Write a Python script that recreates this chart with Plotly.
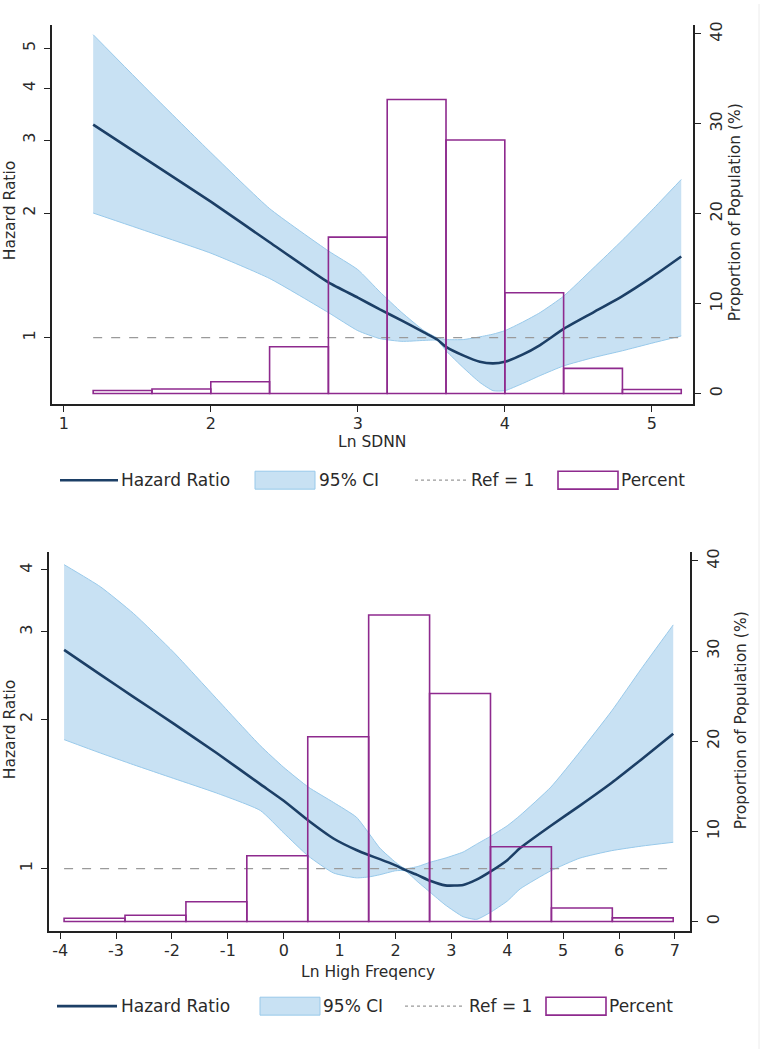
import math
import plotly.graph_objects as go
from plotly.subplots import make_subplots

# ---------------- data: Ln SDNN panel ----------------
sdnn_x = [1.2, 1.6, 2.0, 2.4, 2.8, 3.0, 3.15, 3.3, 3.45, 3.54, 3.6, 3.72, 3.83, 3.92, 4.0, 4.12, 4.24, 4.4, 4.6, 4.8, 5.0, 5.2]
sdnn_hr = [3.27, 2.64, 2.13, 1.70, 1.36, 1.25, 1.17, 1.10, 1.03, 0.99, 0.95, 0.905, 0.875, 0.867, 0.875, 0.91, 0.96, 1.05, 1.15, 1.26, 1.40, 1.57]
sdnn_lo = [2.0, 1.79, 1.60, 1.39, 1.15, 1.04, 0.995, 0.98, 0.985, 0.985, 0.93, 0.845, 0.78, 0.745, 0.745, 0.775, 0.81, 0.855, 0.895, 0.93, 0.97, 1.01]
sdnn_hi = [5.39, 3.87, 2.80, 2.05, 1.62, 1.46, 1.29, 1.15, 1.04, 1.0, 0.99, 0.99, 1.005, 1.02, 1.04, 1.09, 1.15, 1.26, 1.47, 1.72, 2.03, 2.41]
sdnn_bins = [1.4, 1.8, 2.2, 2.6, 3.0, 3.4, 3.8, 4.2, 4.6, 5.0]
sdnn_pct = [0.33, 0.5, 1.3, 5.2, 17.4, 32.7, 28.2, 11.2, 2.8, 0.44]
sdnn_binwidth = 0.4
sdnn_xticks = [1, 2, 3, 4, 5]

# ---------------- data: Ln High Frequency panel ----------------
hf_x = [-3.93, -3.28, -2.69, -1.97, -1.20, -0.42, 0.0, 0.44, 0.89, 1.30, 1.52, 1.72, 2.0, 2.17, 2.4, 2.62, 2.89,
        3.21, 3.45, 3.69, 4.0, 4.23, 4.78, 5.3, 5.87, 6.4, 6.97]
hf_hr = [2.76, 2.46, 2.22, 1.96, 1.71, 1.48, 1.37, 1.25, 1.15, 1.09, 1.065, 1.045, 1.015, 0.994, 0.97, 0.945, 0.925,
         0.927, 0.95, 0.985, 1.04, 1.10, 1.22, 1.34, 1.49, 1.66, 1.87]
hf_lo = [1.82, 1.71, 1.62, 1.52, 1.42, 1.31, 1.18, 1.06, 0.98, 0.958, 0.962, 0.972, 0.99, 0.99, 0.94, 0.896, 0.845,
         0.80, 0.79, 0.815, 0.86, 0.91, 0.99, 1.05, 1.087, 1.11, 1.13]
hf_hi = [4.10, 3.70, 3.27, 2.73, 2.20, 1.77, 1.60, 1.46, 1.36, 1.27, 1.18, 1.10, 1.03, 1.0, 1.01, 1.03, 1.05,
         1.08, 1.12, 1.16, 1.22, 1.28, 1.46, 1.72, 2.08, 2.53, 3.10]
hf_bins = [-3.385, -2.295, -1.205, -0.115, 0.975, 2.065, 3.155, 4.245, 5.335, 6.425]
hf_pct = [0.37, 0.7, 2.2, 7.3, 20.5, 34.0, 25.3, 8.3, 1.5, 0.4]
hf_binwidth = 1.09
hf_xticks = [-4, -3, -2, -1, 0, 1, 2, 3, 4, 5, 6, 7]

hr_ticks = [1, 2, 3, 4, 5]
pct_ticks = [0, 10, 20, 30, 40]
REF = 1

NAVY = "#1c3f66"
CI_FILL = "#c8e1f3"
CI_EDGE = "#98c9ea"
PURPLE = "#8e2a8e"
GREY = "#9a9a9a"
TXT = "#2a2a2a"
FONT = "DejaVu Sans"
W, H = 763, 1049

fig = make_subplots(rows=2, cols=1, specs=[[{"secondary_y": True}], [{"secondary_y": True}]])

spline = dict(shape="spline", smoothing=0.5)


def add_panel(row, x, hr, lo, hi, bins, pct, bw):
    fig.add_trace(go.Scatter(x=x, y=hi, mode="lines", line=dict(color=CI_EDGE, width=1, **spline),
                             showlegend=False), row=row, col=1, secondary_y=False)
    fig.add_trace(go.Scatter(x=x, y=lo, mode="lines", fill="tonexty", fillcolor=CI_FILL,
                             line=dict(color=CI_EDGE, width=1, **spline),
                             showlegend=False), row=row, col=1, secondary_y=False)
    fig.add_trace(go.Scatter(x=[x[0], x[-1]], y=[REF, REF], mode="lines",
                             line=dict(color=GREY, width=1.2, dash="dash"), showlegend=False),
                  row=row, col=1, secondary_y=False)
    fig.add_trace(go.Scatter(x=x, y=hr, mode="lines", line=dict(color=NAVY, width=2.6, **spline),
                             showlegend=False), row=row, col=1, secondary_y=False)
    fig.add_trace(go.Bar(x=bins, y=pct, width=bw, marker=dict(color="rgba(0,0,0,0)", line=dict(color=PURPLE, width=1.6)),
                         showlegend=False), row=row, col=1, secondary_y=True)


add_panel(1, sdnn_x, sdnn_hr, sdnn_lo, sdnn_hi, sdnn_bins, sdnn_pct, sdnn_binwidth)
add_panel(2, hf_x, hf_hr, hf_lo, hf_hi, hf_bins, hf_pct, hf_binwidth)

axis_common = dict(showline=True, linecolor="#222", linewidth=1.5, ticks="outside", ticklen=6, tickwidth=1.3,
                   tickcolor="#222", showgrid=False, zeroline=False,
                   tickfont=dict(family=FONT, size=16, color=TXT))


def px_x(p):
    return p / W


def px_y(p):
    return 1 - p / H


# axes placed at the pixel positions
fig.update_layout(
    xaxis=dict(axis_common, domain=[px_x(52), px_x(693)], range=[0.92, 5.28], tickvals=sdnn_xticks,
               ticktext=[str(t) for t in sdnn_xticks], ticklabelstandoff=-2),
    yaxis=dict(axis_common, domain=[px_y(402), px_y(21)], type="log",
               range=[math.log10(0.69), math.log10(5.69)], tickvals=hr_ticks,
               ticktext=[str(t) for t in hr_ticks], tickangle=-90, ticklabelstandoff=3),
    yaxis2=dict(axis_common, range=[-1.22, 41.0], tickvals=pct_ticks, tickangle=-90, ticklabelstandoff=2),
    xaxis2=dict(axis_common, domain=[px_x(49), px_x(690)], range=[-4.2, 7.27], tickvals=hf_xticks,
                ticktext=[str(t) for t in hf_xticks], ticklabelstandoff=-2),
    yaxis3=dict(axis_common, domain=[px_y(931), px_y(550)], type="log",
                range=[math.log10(0.747), math.log10(4.35)], tickvals=hr_ticks[:4],
                ticktext=[str(t) for t in hr_ticks[:4]], tickangle=-90, ticklabelstandoff=3),
    yaxis4=dict(axis_common, range=[-1.1, 41.0], tickvals=pct_ticks, tickangle=-90, ticklabelstandoff=2),
)

annotations = []


def label(text, x, y, size=15.5, angle=0, xanchor="center"):
    annotations.append(dict(text=text, x=px_x(x), y=px_y(y), xref="paper", yref="paper", showarrow=False,
                            textangle=angle, xanchor=xanchor, yanchor="middle",
                            font=dict(family=FONT, size=size, color=TXT)))


# axis titles
label("Hazard Ratio", 10, 208, angle=-90)
label("Proportion of Population (%)", 735, 209, angle=-90)
label("Ln SDNN", 372, 440)
label("Hazard Ratio", 10, 729, angle=-90)
label("Proportion of Population (%)", 741, 719, angle=-90)
label("Ln High Freqency", 368, 972)

shapes = []


def legend(yc, xs):
    (l0, l1), t1, (c0, c1), t2, (d0, d1), t3, (p0, p1), t4 = xs
    shapes.append(dict(type="line", xref="paper", yref="paper", x0=px_x(l0), x1=px_x(l1), y0=px_y(yc), y1=px_y(yc),
                       line=dict(color=NAVY, width=2.6)))
    shapes.append(dict(type="rect", xref="paper", yref="paper", x0=px_x(c0), x1=px_x(c1), y0=px_y(yc - 9),
                       y1=px_y(yc + 9), fillcolor=CI_FILL, line=dict(color=CI_EDGE, width=1)))
    shapes.append(dict(type="line", xref="paper", yref="paper", x0=px_x(d0), x1=px_x(d1), y0=px_y(yc), y1=px_y(yc),
                       line=dict(color=GREY, width=1.2, dash="dot")))
    shapes.append(dict(type="rect", xref="paper", yref="paper", x0=px_x(p0), x1=px_x(p1), y0=px_y(yc - 9),
                       y1=px_y(yc + 9), fillcolor="white", line=dict(color=PURPLE, width=1.6)))
    for txt, tx in zip(["Hazard Ratio", "95% CI", "Ref = 1", "Percent"], [t1, t2, t3, t4]):
        label(txt, tx, yc, size=17, xanchor="left")


legend(478, [(60, 118), 119, (255, 315), 317, (415, 468), 469, (558, 618), 619])
legend(1006, [(57, 117), 119, (260, 320), 321, (405, 465), 467, (546, 606), 607])

# faint frame edge on the right side of the original image
shapes.append(dict(type="line", xref="paper", yref="paper", x0=px_x(759), x1=px_x(759), y0=0, y1=1,
                   line=dict(color="#ececec", width=1)))

fig.update_layout(width=W, height=H, margin=dict(l=0, r=0, t=0, b=0), plot_bgcolor="white", paper_bgcolor="white",
                  showlegend=False, barmode="overlay", annotations=annotations, shapes=shapes,
                  font=dict(family=FONT, color=TXT))

# drop the browser's default body margin so the figure fills the window exactly
fig.write_html("out.html", config={"displayModeBar": False},
               post_script="document.body.style.margin = '0px';")
